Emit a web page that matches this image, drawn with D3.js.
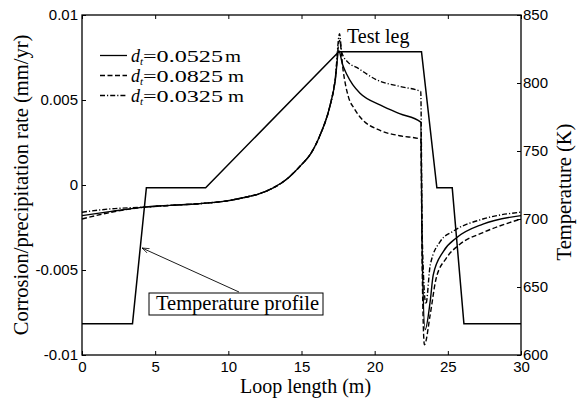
<!DOCTYPE html>
<html>
<head>
<meta charset="utf-8">
<script src="https://cdn.jsdelivr.net/npm/d3@7"></script>
<style>
  body { margin: 0; background: #fff; }
  svg { display: block; }
  .tick text { font-family: "Liberation Sans", Arial, sans-serif; font-size: 15px; fill: #000; }
  .serif { font-family: "Liberation Serif", "Times New Roman", serif; fill: #000; }
</style>
</head>
<body>
<svg width="580" height="400"></svg>
<script>
// temperature profile (right axis, K)
const tempLength = [0, 3.45, 4.4, 8.45, 17.55, 23.2, 24.25, 25.3, 26.1, 30];
const tempK = [623, 623, 723, 723, 823, 823, 723, 723, 623, 623];

// corrosion / precipitation rate (left axis, mm/yr)
const lenSolid = [0, 2, 4.3, 6, 8, 10, 11, 12, 13, 14, 15, 15.6, 16.3, 16.9, 17.3, 17.55,
  17.8, 18.1, 18.5, 19, 20.4, 21.7, 23.15, 23.25, 23.45, 23.8, 24, 24.7, 25.6, 27.4, 30];
const rateSolid = [-0.0018, -0.00155, -0.0013, -0.0012, -0.0011, -0.00092, -0.00075, -0.00055, -0.0002, 0.00035, 0.0012, 0.0018, 0.0030, 0.0045, 0.0061, 0.0079,
  0.0071, 0.0065, 0.0059, 0.0054, 0.0047, 0.0042, 0.0037, -0.004, -0.0085, -0.0068, -0.0053, -0.0039, -0.0031, -0.0023, -0.0018];

const lenDashed = [0, 2, 4.3, 6, 8, 10, 11, 12, 13, 14, 15, 15.6, 16.3, 16.9, 17.3, 17.6,
  17.85, 18.2, 18.6, 19, 20.4, 21.7, 23.15, 23.25, 23.4, 23.8, 24.2, 24.9, 25.8, 27.4, 30];
const rateDashed = [-0.002, -0.0016, -0.0013, -0.0012, -0.0011, -0.00092, -0.00075, -0.00055, -0.0002, 0.00035, 0.0012, 0.0018, 0.0030, 0.0045, 0.0062, 0.0085,
  0.0067, 0.0052, 0.0045, 0.0040, 0.0032, 0.0029, 0.0027, -0.005, -0.0094, -0.0076, -0.0055, -0.0043, -0.0035, -0.0028, -0.0020];

const lenDashDot = [0, 2, 4.3, 6, 8, 10, 11, 12, 13, 14, 15, 15.6, 16.3, 16.9, 17.3, 17.6,
  17.75, 18.2, 18.8, 20.1, 21.7, 23.15, 23.25, 23.5, 23.8, 24.5, 25.4, 27.4, 30];
const rateDashDot = [-0.0016, -0.0014, -0.0013, -0.0012, -0.0011, -0.00092, -0.00075, -0.00055, -0.0002, 0.00035, 0.0012, 0.0018, 0.0030, 0.0045, 0.0062, 0.0089,
  0.0078, 0.0072, 0.0069, 0.0062, 0.0058, 0.0055, -0.003, -0.0070, -0.0047, -0.0033, -0.0027, -0.0020, -0.0016];

const lengthTicks = [0, 5, 10, 15, 20, 25, 30];
const rateTicks = [-0.01, -0.005, 0, 0.005, 0.01];
const rateTickLabels = ['-0.01', '-0.005', '0', '0.005', '0.01'];
const tempTicks = [600, 650, 700, 750, 800, 850];

const legendNames = ['0.0525', '0.0825', '0.0325'];
const legendDash = [null, '5,2.5', '5,2,1.2,2'];

const svg = d3.select('svg');
const margin = { top: 15, right: 59, bottom: 45, left: 82 };
const width = 580, height = 400;
const innerW = width - margin.left - margin.right;
const innerH = height - margin.top - margin.bottom;

const x = d3.scaleLinear().domain([0, 30]).range([0, innerW]);
const yL = d3.scaleLinear().domain([-0.01, 0.01]).range([innerH, 0]);
const yR = d3.scaleLinear().domain([600, 850]).range([innerH, 0]);

const g = svg.append('g').attr('transform', `translate(${margin.left},${margin.top})`);

// axes with inward ticks
g.append('g').attr('transform', `translate(0,${innerH})`)
  .call(d3.axisBottom(x).tickValues(lengthTicks).tickSize(-4).tickSizeOuter(0).tickPadding(6));
g.append('g')
  .call(d3.axisTop(x).tickValues(lengthTicks).tickSize(-4).tickSizeOuter(0).tickFormat(''));
g.append('g')
  .call(d3.axisLeft(yL).tickValues(rateTicks).tickSize(-4).tickSizeOuter(0).tickPadding(4)
    .tickFormat((d, i) => rateTickLabels[i]));
g.append('g').attr('transform', `translate(${innerW},0)`)
  .call(d3.axisRight(yR).tickValues(tempTicks).tickSize(-4).tickSizeOuter(0).tickPadding(2));
g.selectAll('.domain').remove();
g.selectAll('.tick line').attr('stroke', '#000').attr('stroke-width', 1);

g.append('rect').attr('width', innerW).attr('height', innerH)
  .attr('fill', 'none').attr('stroke', '#000').attr('stroke-width', 1.3);

// temperature profile
const tempLine = d3.line().x((d, i) => x(tempLength[i])).y(d => yR(d));
g.append('path').datum(tempK).attr('d', tempLine)
  .attr('fill', 'none').attr('stroke', '#000').attr('stroke-width', 1.5);

// rate curves
const series = [
  { xs: lenSolid, ys: rateSolid, dash: legendDash[0] },
  { xs: lenDashed, ys: rateDashed, dash: legendDash[1] },
  { xs: lenDashDot, ys: rateDashDot, dash: legendDash[2] }
];
series.forEach(s => {
  const line = d3.line().curve(d3.curveMonotoneX)
    .x((d, i) => x(s.xs[i])).y(d => yL(d));
  g.append('path').datum(s.ys).attr('d', line)
    .attr('fill', 'none').attr('stroke', '#000').attr('stroke-width', 1.4)
    .attr('stroke-dasharray', s.dash);
});

// legend
const legY = [55.5, 75.5, 95.5];
const mX = [225, 228, 228];
legendNames.forEach((name, i) => {
  svg.append('line').attr('x1', 100).attr('x2', 127).attr('y1', legY[i]).attr('y2', legY[i])
    .attr('stroke', '#000').attr('stroke-width', 1.3).attr('stroke-dasharray', legendDash[i]);
  const by = legY[i] + 6;
  svg.append('text').attr('class', 'serif').attr('x', 131).attr('y', by)
    .attr('font-size', 18).attr('font-style', 'italic').text('d');
  svg.append('text').attr('class', 'serif').attr('x', 140).attr('y', by + 3)
    .attr('font-size', 11).attr('font-style', 'italic').text('t');
  svg.append('text').attr('class', 'serif').attr('x', 143).attr('y', by)
    .attr('font-size', 17).attr('textLength', 80).attr('lengthAdjust', 'spacingAndGlyphs')
    .text('=' + name);
  svg.append('text').attr('class', 'serif').attr('x', mX[i]).attr('y', by)
    .attr('font-size', 17).attr('textLength', 16).attr('lengthAdjust', 'spacingAndGlyphs')
    .text('m');
});

// annotations
svg.append('text').attr('class', 'serif').attr('x', 347).attr('y', 43)
  .attr('font-size', 20).text('Test leg');

svg.append('defs').append('marker').attr('id', 'arr')
  .attr('viewBox', '0 0 10 10').attr('refX', 10).attr('refY', 5)
  .attr('markerWidth', 8).attr('markerHeight', 8).attr('orient', 'auto')
  .append('path').attr('d', 'M0,1.5 L10,5 L0,8.5').attr('fill', 'none').attr('stroke', '#000').attr('stroke-width', 1);
svg.append('line').attr('x1', 239).attr('y1', 292).attr('x2', 142).attr('y2', 248)
  .attr('stroke', '#000').attr('stroke-width', 0.9).attr('marker-end', 'url(#arr)');

svg.append('rect').attr('x', 149).attr('y', 293).attr('width', 174).attr('height', 22)
  .attr('fill', '#fff').attr('stroke', '#000').attr('stroke-width', 1);
svg.append('text').attr('class', 'serif').attr('x', 156).attr('y', 310)
  .attr('font-size', 20).attr('textLength', 163).attr('lengthAdjust', 'spacingAndGlyphs')
  .text('Temperature profile');

// axis titles
svg.append('text').attr('class', 'serif').attr('x', margin.left + innerW / 2 + 4).attr('y', 393)
  .attr('text-anchor', 'middle').attr('font-size', 20).text('Loop length (m)');
svg.append('text').attr('class', 'serif')
  .attr('transform', 'translate(28,185) rotate(-90)')
  .attr('text-anchor', 'middle').attr('font-size', 20.5).text('Corrosion/precipitation rate (mm/yr)');
svg.append('text').attr('class', 'serif')
  .attr('transform', 'translate(571,192) rotate(-90)')
  .attr('text-anchor', 'middle').attr('font-size', 20.5).text('Temperature (K)');
</script>
</body>
</html>
